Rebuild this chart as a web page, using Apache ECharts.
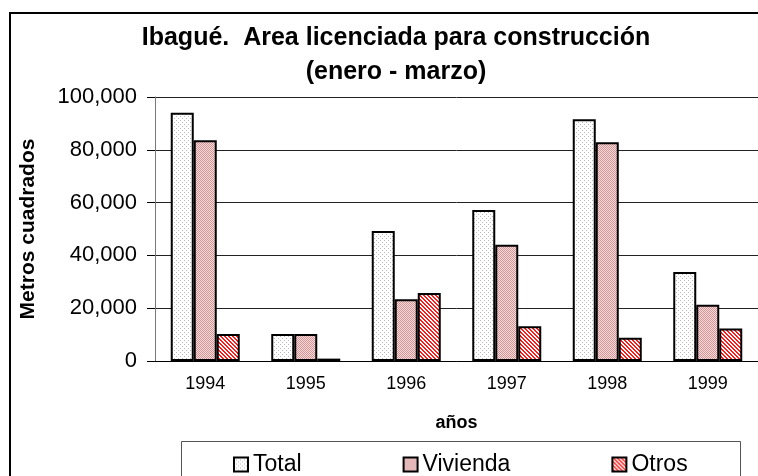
<!DOCTYPE html>
<html>
<head>
<meta charset="utf-8">
<script src="https://cdn.jsdelivr.net/npm/echarts@6/dist/echarts.min.js"></script>
<style>
  html, body { margin: 0; padding: 0; background: #fff; }
  #chart { width: 758px; height: 476px; }
</style>
</head>
<body>
<div id="chart"></div>
<script>
const years = ['1994', '1995', '1996', '1997', '1998', '1999'];
const total = [94000, 10200, 49200, 57200, 91600, 33700];
const vivienda = [83600, 10200, 23400, 44000, 82900, 21300];
const otros = [10200, 900, 25800, 13200, 8800, 12300];
const yTicks = [0, 20000, 40000, 60000, 80000, 100000];

// small repeating fill patterns, like the old spreadsheet fills
const makePattern = (size, bg, fg, cells) => {
  const c = document.createElement('canvas');
  c.width = size;
  c.height = size;
  const ctx = c.getContext('2d');
  ctx.fillStyle = bg;
  ctx.fillRect(0, 0, size, size);
  ctx.fillStyle = fg;
  cells.forEach(p => ctx.fillRect(p[0], p[1], 1, 1));
  return { image: c, repeat: 'repeat' };
};

const totalFill = makePattern(4, '#ffffff', '#b8b8b8', [[0, 0], [2, 2]]);
const viviendaFill = makePattern(2, '#f4dcdc', '#d49494', [[0, 0], [1, 1]]);
const otrosFill = makePattern(4, '#ffffff', '#ff1a1a', [[0, 0], [1, 0], [1, 1], [2, 1], [2, 2], [3, 2], [3, 3], [0, 3]]);

const chart = echarts.init(document.getElementById('chart'));
const font = 'Liberation Sans, Arial, sans-serif';

const barStyle = (fill) => ({
  color: fill,
  borderColor: '#000',
  borderWidth: 2
});

const option = {
  animation: false,
  backgroundColor: '#fff',
  textStyle: { fontFamily: font },
  title: {
    text: 'Ibagué.  Area licenciada para construcción\n(enero - marzo)',
    left: 391,
    textAlign: 'center',
    top: 16,
    textStyle: { fontSize: 25, fontWeight: 'bold', color: '#000', lineHeight: 34, fontFamily: font }
  },
  legend: {
    left: 228,
    top: 448,
    itemWidth: 14,
    itemHeight: 14,
    itemGap: 101,
    icon: 'rect',
    textStyle: { fontSize: 23, color: '#000', fontFamily: font },
    data: ['Total', 'Vivienda', 'Otros']
  },
  grid: { left: 155, top: 97, width: 616, height: 264 },
  xAxis: {
    type: 'category',
    data: years,
    name: 'años',
    nameLocation: 'middle',
    nameGap: 53,
    nameTextStyle: { fontSize: 18, fontWeight: 'bold', color: '#000', fontFamily: font },
    axisLine: { lineStyle: { color: '#000', width: 1 } },
    axisTick: { length: 6, lineStyle: { color: '#000' } },
    axisLabel: { fontSize: 18, color: '#000', margin: 14, fontFamily: font }
  },
  yAxis: {
    type: 'value',
    min: 0,
    max: 100000,
    interval: 20000,
    name: 'Metros cuadrados',
    nameLocation: 'middle',
    nameGap: 116,
    nameTextStyle: { fontSize: 21, fontWeight: 'bold', color: '#000', fontFamily: font },
    axisLine: { show: true, lineStyle: { color: '#777', width: 1 } },
    axisTick: { show: true, length: 8, lineStyle: { color: '#000' } },
    axisLabel: {
      fontSize: 22,
      color: '#000',
      margin: 18,
      fontFamily: font,
      formatter: v => yTicks.includes(v) ? v.toLocaleString('en-US') : ''
    },
    splitLine: { show: true, lineStyle: { color: '#222', width: 1 } }
  },
  series: [
    { name: 'Total', type: 'bar', data: total, barWidth: 23, barGap: '0%', itemStyle: barStyle(totalFill) },
    { name: 'Vivienda', type: 'bar', data: vivienda, barWidth: 23, barGap: '0%', itemStyle: barStyle(viviendaFill) },
    { name: 'Otros', type: 'bar', data: otros, barWidth: 23, barGap: '0%', itemStyle: barStyle(otrosFill) }
  ],
  graphic: [
    { type: 'rect', silent: true, shape: { x: 10, y: 13, width: 800, height: 520 }, style: { fill: 'none', stroke: '#000', lineWidth: 2 } },
    { type: 'rect', silent: true, shape: { x: 181.5, y: 441.5, width: 559, height: 60 }, style: { fill: 'none', stroke: '#555', lineWidth: 1 } }
  ]
};

option && chart.setOption(option);
</script>
</body>
</html>
